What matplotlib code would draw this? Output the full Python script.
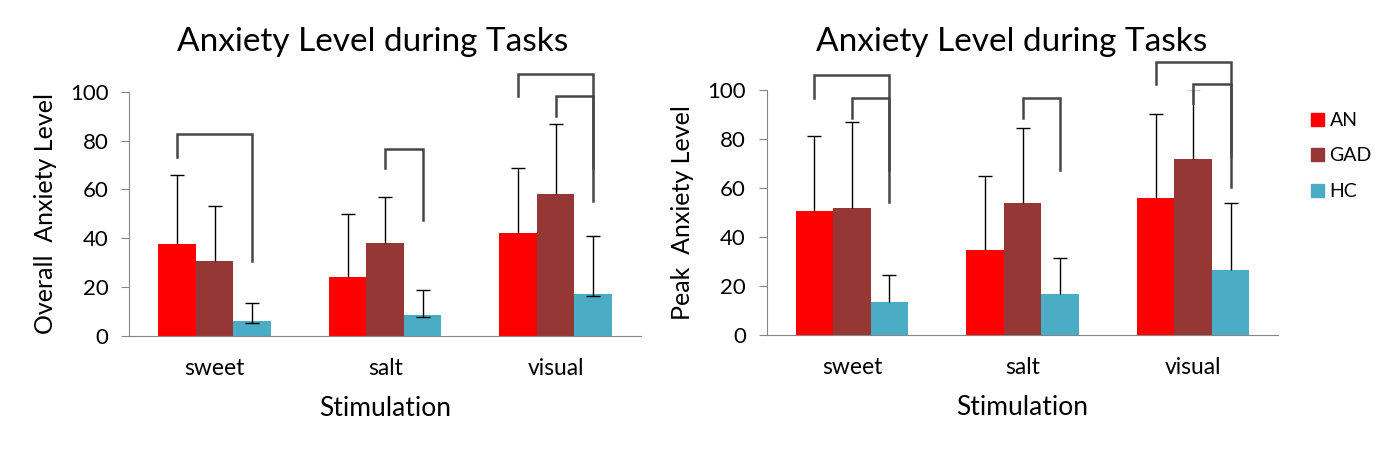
import matplotlib
matplotlib.use("Agg")
import matplotlib.pyplot as plt
import numpy as np
from matplotlib.patches import Patch

plt.rcParams['font.family'] = ['Lato', 'DejaVu Sans']

# data
groups = ['sweet', 'salt', 'visual']
series = ['AN', 'GAD', 'HC']
colors = ['#FF0000', '#953735', '#4BACC6']

overall_an = [37.6, 24.1, 42.1]
overall_an_err = [28.1, 25.7, 26.5]
overall_gad = [30.7, 38.0, 58.1]
overall_gad_err = [22.7, 19.1, 28.6]
overall_hc = [6.1, 8.6, 17.0]
overall_hc_err = [7.3, 10.1, 23.8]
overall_hc_err_low = [0.9, 0.8, 0.8]

peak_an = [50.7, 34.7, 56.0]
peak_an_err = [30.5, 30.2, 34.3]
peak_gad = [51.9, 53.9, 71.9]
peak_gad_err = [35.1, 30.6, 28.6]
peak_hc = [13.5, 16.7, 26.6]
peak_hc_err = [10.9, 14.6, 27.2]

# significance brackets: (group, from series, to series, top, left end, right end)
overall_brackets = [(0, 0, 2, 82.6, 73.1, 30.7),
                    (1, 1, 2, 76.7, 68.9, 47.4),
                    (2, 0, 2, 107.4, 98.2, 68.9),
                    (2, 1, 2, 98.3, 90.0, 55.4)]
peak_brackets = [(0, 0, 2, 106.2, 96.7, 54.3),
                 (0, 1, 2, 96.9, 88.8, 67.6),
                 (1, 1, 2, 96.8, 88.8, 67.4),
                 (2, 0, 2, 111.7, 102.6, 73.2),
                 (2, 1, 2, 102.7, 94.7, 60.4)]

W, H = 1387, 450
fig = plt.figure(figsize=(W / 100, H / 100), dpi=100)

bw = 0.22
offs = [-bw, 0, bw]
x = np.arange(len(groups))


def draw(ax, vals, errs, lows, brackets, ylabel):
    for i in range(3):
        ax.bar(x + offs[i], vals[i], bw, color=colors[i], zorder=2)
        low = lows[i] if lows[i] is not None else [0] * 3
        _, caps, _ = ax.errorbar(x + offs[i], vals[i], yerr=[low, errs[i]],
                                 fmt='none', ecolor='black', elinewidth=1,
                                 capsize=5, capthick=1, zorder=3)
        if lows[i] is None:
            caps[0].set_visible(False)
    for g, a, b, top, ya, yb in brackets:
        xa = g + offs[a]
        xb = g + offs[b]
        ax.plot([xa, xa, xb, xb], [ya, top, top, yb], color='#474747',
                lw=1.8, clip_on=False, zorder=4, solid_joinstyle='miter')
    ax.set_xlim(-0.5, 2.5)
    ax.set_ylim(0, 100)
    ax.set_yticks([0, 20, 40, 60, 80, 100])
    ax.set_xticks(x)
    ax.set_xticklabels(groups)
    for s in ['top', 'right']:
        ax.spines[s].set_visible(False)
    for s in ['left', 'bottom']:
        ax.spines[s].set_color('#868686')
    ax.tick_params(axis='y', length=6, color='#868686', labelsize=16, pad=9)
    ax.tick_params(axis='x', length=0, labelsize=16.5, pad=16)
    ax.set_ylabel(ylabel, fontsize=18)
    ax.yaxis.label.set_va('center')
    ax.yaxis.set_label_coords(-0.164, 0.5)
    ax.set_xlabel('Stimulation', fontsize=19)
    ax.xaxis.label.set_va('center')
    ax.xaxis.set_label_coords(0.5, -0.298)


ax1 = fig.add_axes([129.3 / W, 1 - 336 / H, 511.7 / W, 244.3 / H])
draw(ax1, [overall_an, overall_gad, overall_hc],
     [overall_an_err, overall_gad_err, overall_hc_err],
     [None, None, overall_hc_err_low], overall_brackets, 'Overall  Anxiety Level')

ax2 = fig.add_axes([766.7 / W, 1 - 335 / H, 511.6 / W, 244.7 / H])
draw(ax2, [peak_an, peak_gad, peak_hc],
     [peak_an_err, peak_gad_err, peak_hc_err],
     [None, None, None], peak_brackets, 'Peak  Anxiety Level')

fig.text(373 / W, 1 - 41.7 / H, 'Anxiety Level during Tasks', fontsize=24,
         ha='center', va='center')
fig.text(1012 / W, 1 - 41.7 / H, 'Anxiety Level during Tasks', fontsize=24,
         ha='center', va='center')

handles = [Patch(color=c) for c in colors]
fig.legend(handles, series, loc='upper left', bbox_to_anchor=(1311 / W, 1 - 112 / H),
           frameon=False, fontsize=14, handlelength=0.65, handleheight=0.65,
           handletextpad=0.3, labelspacing=0.95, borderpad=0, borderaxespad=0)

fig.savefig('out.png', dpi=100)
